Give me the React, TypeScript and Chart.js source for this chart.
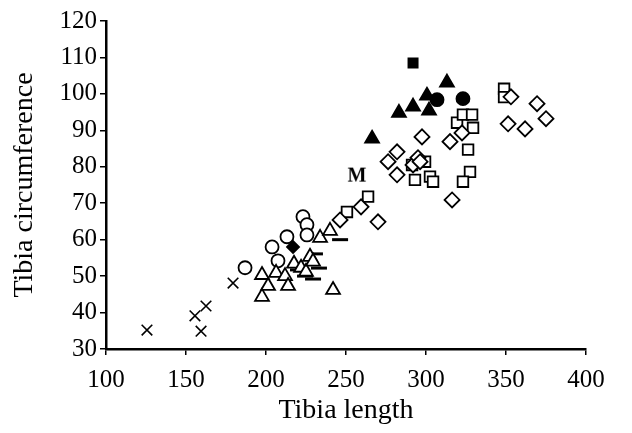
import React, { useEffect, useRef } from "react";
import { Chart, registerables } from "chart.js";
Chart.register(...registerables);

const crossX = [125.6, 155.6, 159.4, 162.5, 179.4];
const crossY = [35.2, 39.1, 34.9, 41.8, 48.1];
const circleX = [186.9, 203.8, 207.5, 213.1, 223.1, 225.6, 225.6];
const circleY = [52.3, 58.0, 54.2, 60.8, 66.3, 64.1, 61.3];
const triOpenX = [197.5, 201.3, 197.5, 206.3, 211.9, 213.8, 217.5, 221.9, 225.0, 227.5, 229.4, 233.8, 240.0, 241.9];
const triOpenY = [44.3, 47.3, 50.3, 50.9, 50.0, 47.3, 53.4, 52.3, 51.2, 55.3, 54.0, 60.5, 62.4, 46.2];
const dashX = [230.6, 233.1, 229.4, 220.0, 224.4, 246.3];
const dashY = [56.1, 52.2, 49.2, 51.7, 50.0, 60.0];
const blackDiamondX = [216.9];
const blackDiamondY = [58.0];
const squareX = [250.6, 263.8, 291.3, 293.1, 299.4, 302.5, 304.4, 319.4, 323.1, 328.8, 329.4, 326.3, 327.5, 323.1, 348.8, 348.8];
const squareY = [67.6, 71.8, 80.5, 76.4, 81.4, 77.3, 75.9, 92.1, 94.3, 94.3, 90.7, 84.7, 78.6, 75.9, 101.4, 99.1];
const diamondX = [246.3, 259.4, 270.0, 276.3, 281.9, 281.9, 291.9, 295.0, 296.3, 297.5, 315.0, 316.3, 322.5, 353.1, 351.3, 361.9, 369.4, 375.0];
const diamondY = [65.4, 69.0, 64.9, 81.4, 84.1, 77.8, 80.5, 82.5, 81.4, 88.2, 86.9, 70.9, 89.3, 99.2, 91.8, 90.4, 97.3, 93.2];
const triFilledX = [266.3, 283.1, 291.9, 300.6, 301.9, 313.1];
const triFilledY = [87.7, 94.8, 96.5, 99.5, 95.4, 103.1];
const squareFilledX = [291.9];
const squareFilledY = [108.5];
const circleFilledX = [306.9, 323.1];
const circleFilledY = [98.4, 98.7];
const labelMX = [256.9];
const labelMY = [77.3];

const xTicks = [100, 150, 200, 250, 300, 350, 400];
const yTicks = [30, 40, 50, 60, 70, 80, 90, 100, 110, 120];

const pts = (xs: number[], ys: number[]) => xs.map((x, i) => ({ x, y: ys[i] }));
const FONT = "Liberation Serif, Times New Roman, serif";

export default function App() {
  const ref = useRef<HTMLCanvasElement | null>(null);
  useEffect(() => {
    if (!ref.current) return;
    const mCanvas = document.createElement("canvas");
    mCanvas.width = 24;
    mCanvas.height = 22;
    const mctx = mCanvas.getContext("2d")!;
    mctx.fillStyle = "#000";
    mctx.font = "bold 20px Liberation Serif";
    mctx.textAlign = "center";
    mctx.textBaseline = "middle";
    mctx.fillText("M", 12, 11);

    const base = { showLine: false, borderColor: "#000", borderWidth: 1.8 };
    const chart = new Chart(ref.current, {
      type: "scatter",
      data: {
        datasets: [
          { ...base, data: pts(crossX, crossY), pointStyle: "crossRot", pointRadius: 7.5, borderWidth: 1.6, backgroundColor: "#000" },
          { ...base, data: pts(triOpenX, triOpenY), pointStyle: "triangle", pointRadius: 8, backgroundColor: "#fff" },
          { ...base, data: pts(circleX, circleY), pointStyle: "circle", pointRadius: 6.5, backgroundColor: "#fff" },
          { ...base, data: pts(dashX, dashY), pointStyle: "line", pointRadius: 8, borderWidth: 3, backgroundColor: "#000" },
          { ...base, data: pts(blackDiamondX, blackDiamondY), pointStyle: "rectRot", pointRadius: 6, backgroundColor: "#000" },
          { ...base, data: pts(diamondX, diamondY), pointStyle: "rectRot", pointRadius: 7.5, backgroundColor: "#fff" },
          { ...base, data: pts(squareX, squareY), pointStyle: "rect", pointRadius: 7.5, backgroundColor: "#fff" },
          { ...base, data: pts(triFilledX, triFilledY), pointStyle: "triangle", pointRadius: 8, backgroundColor: "#000" },
          { ...base, data: pts(squareFilledX, squareFilledY), pointStyle: "rect", pointRadius: 6.5, backgroundColor: "#000" },
          { ...base, data: pts(circleFilledX, circleFilledY), pointStyle: "circle", pointRadius: 6.5, backgroundColor: "#000" },
          { ...base, data: pts(labelMX, labelMY), pointStyle: mCanvas as any, pointRadius: 11 },
        ],
      },
      options: {
        animation: false,
        responsive: false,
        layout: { padding: { top: 21, right: 46, left: 0, bottom: 0 } },
        plugins: { legend: { display: false }, tooltip: { enabled: false } },
        scales: {
          x: {
            type: "linear",
            min: 100,
            max: 400,
            afterBuildTicks: (s: any) => { s.ticks = xTicks.map((v) => ({ value: v })); },
            afterFit: (s: any) => { s.height = 84; },
            border: { color: "#000", width: 2.5 },
            grid: { drawOnChartArea: false, drawTicks: true, tickLength: 6, color: "#000", lineWidth: 1.5 },
            ticks: { color: "#000", font: { family: FONT, size: 25 }, padding: 10, maxRotation: 0 },
            title: { display: true, text: "Tibia length", color: "#000", font: { family: FONT, size: 28 }, padding: { top: 4, bottom: 6 } },
          },
          y: {
            type: "linear",
            min: 30,
            max: 120,
            afterBuildTicks: (s: any) => { s.ticks = yTicks.map((v) => ({ value: v })); },
            afterFit: (s: any) => { s.width = 106; },
            border: { color: "#000", width: 2.5 },
            grid: { drawOnChartArea: false, drawTicks: true, tickLength: 6, color: "#000", lineWidth: 1.5 },
            ticks: { color: "#000", font: { family: FONT, size: 25 }, padding: 3 },
            title: { display: true, text: "Tibia circumference", color: "#000", font: { family: FONT, size: 28 }, padding: { top: 8, bottom: 4 } },
          },
        },
      },
    });
    return () => chart.destroy();
  }, []);
  return (
    <div style={{ position: "fixed", left: 0, top: 0, width: 632, height: 433, background: "#fff" }}>
      <canvas ref={ref} width={632} height={433} style={{ width: 632, height: 433 }} />
    </div>
  );
}
